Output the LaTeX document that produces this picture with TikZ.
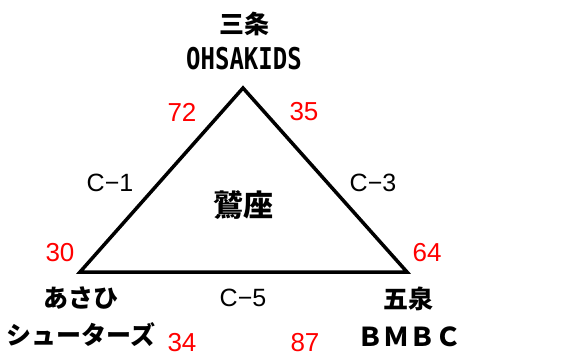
\documentclass[tikz,border=0pt]{standalone}
\usepackage{fontspec}
\usepackage{graphicx}
\setmainfont{Liberation Sans}
\newfontfamily\jp{Noto Sans CJK JP}
\newfontfamily\mono{DejaVu Sans Mono}
\tikzset{
  num/.style = {text = red, inner sep = 0pt, font = \fontsize{26}{26}\selectfont},
  side/.style = {inner sep = 0pt, font = \fontsize{25}{25}\selectfont},
  team/.style = {inner sep = 0pt, font = \jp\bfseries\fontsize{25}{25}\selectfont},
}
\begin{document}
\begin{tikzpicture}[x = 1pt, y = -1pt]

      \useasboundingbox (0, 0) rectangle (565, 361);

      \coordinate (top) at (243, 88);
      \coordinate (left) at (80, 272);
      \coordinate (right) at (407, 272);
      \draw[line width = 3.5pt, line join = miter] (top) -- (right) -- (left) -- cycle;

      \node[team] (sanjo) at (244, 24) {三条};
      \node[inner sep = 0pt, font = \mono\bfseries\fontsize{30}{30}\selectfont] (ohsa) at (244, 59)
        {\scalebox{0.8}[1]{OHSAKIDS}};
      \node[team] (asahi) at (81, 298) {あさひ};
      \node[team, font = \jp\bfseries\fontsize{25}{25}\selectfont] (shooters) at (81, 335) {シューターズ};
      \node[team] (gosen) at (408, 299) {五泉};
      \node[team, font = \jp\bfseries\fontsize{26}{26}\selectfont] (bmbc) at (409, 337) {ＢＭＢＣ};
      \node[team, font = \jp\bfseries\fontsize{30}{30}\selectfont] (washiza) at (243, 205) {鷲座};

      \node[side] (c1) at (110, 183) {C−1};
      \node[side] (c3) at (373, 183) {C−3};
      \node[side] (c5) at (243, 298) {C−5};

      \node[num] (n72) at (182, 112) {72};
      \node[num] (n35) at (304, 112) {35};
      \node[num] (n30) at (60, 253) {30};
      \node[num] (n64) at (427, 253) {64};
      \node[num] (n34) at (182, 343) {34};
      \node[num] (n87) at (305, 343) {87};

    \end{tikzpicture}
\end{document}
